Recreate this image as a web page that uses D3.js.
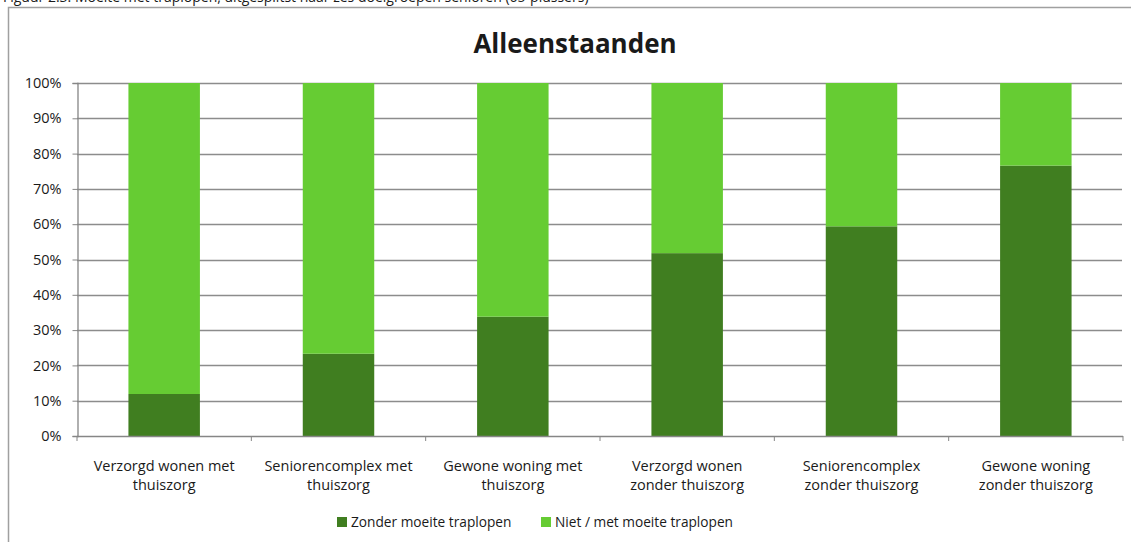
<!DOCTYPE html>
<html>
<head>
<meta charset="utf-8">
<script src="https://cdn.jsdelivr.net/npm/d3@7"></script>
<style>
  body { margin: 0; background: #fff; }
  text { font-family: "Open Sans", "Noto Sans", sans-serif; fill: #1a1a1a; }
</style>
</head>
<body>
<div id="chart-area"></div>
<script>
// categories (two lines each)
var categories = [
    ["Verzorgd wonen met", "thuiszorg"],
    ["Seniorencomplex met", "thuiszorg"],
    ["Gewone woning met", "thuiszorg"],
    ["Verzorgd wonen", "zonder thuiszorg"],
    ["Seniorencomplex", "zonder thuiszorg"],
    ["Gewone woning", "zonder thuiszorg"]
];
var seriesNames = ["Zonder moeite traplopen", "Niet / met moeite traplopen"];
var zonder = [11.9, 23.3, 33.8, 51.8, 59.4, 76.6];
var niet = zonder.map(function(v) { return 100 - v; });
var yTicks = [0, 10, 20, 30, 40, 50, 60, 70, 80, 90, 100];
var colors = ["#407E20", "#66CC33"];

var width = 1131, height = 542;
var svg = d3.select("#chart-area").append("svg")
    .attr("width", width)
    .attr("height", height);

// caption (cut off at top)
svg.append("text")
    .attr("x", 3)
    .attr("y", 2)
    .attr("font-size", 14)
    .text("Figuur 2.3: Moeite met traplopen, uitgesplitst naar zes doelgroepen senioren (65-plussers)");

// outer frame
svg.append("path")
    .attr("d", "M8.5," + height + "V7.5H" + (width + 5))
    .attr("fill", "none")
    .attr("stroke", "#a0a0a0")
    .attr("stroke-width", 1.5);

svg.append("text")
    .attr("x", 575)
    .attr("y", 53)
    .attr("text-anchor", "middle")
    .attr("font-size", 26)
    .attr("font-weight", "bold")
    .attr("fill", "#000")
    .text("Alleenstaanden");

var plotLeft = 77, plotRight = 1123, plotTop = 83, plotBottom = 436;

var x = d3.scaleBand()
    .domain(d3.range(categories.length))
    .range([plotLeft, plotRight])
    .paddingInner(0)
    .paddingOuter(0);

var y = d3.scaleLinear()
    .domain([0, 100])
    .range([plotBottom, plotTop]);

// gridlines
svg.append("g").selectAll("line").data(yTicks.filter(function(d) { return d > 0; }))
    .enter().append("line")
    .attr("x1", plotLeft).attr("x2", plotRight - 1)
    .attr("y1", function(d) { return Math.round(y(d)) + 0.5; })
    .attr("y2", function(d) { return Math.round(y(d)) + 0.5; })
    .attr("stroke", "#8c8c8c")
    .attr("stroke-width", 1.3);

// stacked bars
var table = categories.map(function(c, i) { return { i: i, zonder: zonder[i], niet: niet[i] }; });
var stack = d3.stack().keys(["zonder", "niet"])(table);
var barW = x.bandwidth() * 0.41;

svg.append("g").selectAll("g").data(stack)
    .enter().append("g")
    .attr("fill", function(d, i) { return colors[i]; })
    .selectAll("rect").data(function(d) { return d; })
    .enter().append("rect")
    .attr("x", function(d) { return x(d.data.i) + (x.bandwidth() - barW) / 2; })
    .attr("width", barW)
    .attr("y", function(d) { return y(d[1]); })
    .attr("height", function(d) { return y(d[0]) - y(d[1]); });

// y axis
var yAxis = d3.axisLeft(y)
    .tickValues(yTicks)
    .tickSize(5)
    .tickPadding(11)
    .tickFormat(function(d) { return d + "%"; });
var gy = svg.append("g")
    .attr("transform", "translate(" + (plotLeft + 0.5) + ",0)")
    .call(yAxis);
gy.select(".domain").attr("stroke", "#868686").attr("stroke-width", 1.3);
gy.selectAll(".tick line").attr("stroke", "#868686");
gy.selectAll(".tick text")
    .attr("font-size", 14.5)
    .attr("fill", "#1a1a1a")
    .attr("font-family", "'Open Sans', 'Noto Sans', sans-serif");

// x axis line and ticks at band boundaries
svg.append("line")
    .attr("x1", plotLeft).attr("x2", plotRight)
    .attr("y1", plotBottom + 0.5).attr("y2", plotBottom + 0.5)
    .attr("stroke", "#868686")
    .attr("stroke-width", 1.3);
svg.append("g").selectAll("line").data(d3.range(categories.length + 1))
    .enter().append("line")
    .attr("x1", function(d) { return plotLeft + d * x.step(); })
    .attr("x2", function(d) { return plotLeft + d * x.step(); })
    .attr("y1", plotBottom)
    .attr("y2", plotBottom + 5)
    .attr("stroke", "#868686");

// category labels
var lab = svg.append("g").selectAll("text").data(categories)
    .enter().append("text")
    .attr("text-anchor", "middle")
    .attr("font-size", 14.5)
    .attr("x", function(d, i) { return x(i) + x.bandwidth() / 2; });
lab.selectAll("tspan").data(function(d) { return d; })
    .enter().append("tspan")
    .attr("x", function() { return this.parentNode.getAttribute("x"); })
    .attr("y", function(d, j) { return 471 + j * 19; })
    .text(function(d) { return d; });

// legend
var legendX = [337, 541];
var lg = svg.append("g").selectAll("g").data(seriesNames)
    .enter().append("g")
    .attr("transform", function(d, i) { return "translate(" + legendX[i] + ",517)"; });
lg.append("rect")
    .attr("width", 10).attr("height", 10)
    .attr("fill", function(d, i) { return colors[i]; });
lg.append("text")
    .attr("x", 14)
    .attr("y", 10)
    .attr("font-size", 13.7)
    .text(function(d) { return d; });
</script>
</body>
</html>
